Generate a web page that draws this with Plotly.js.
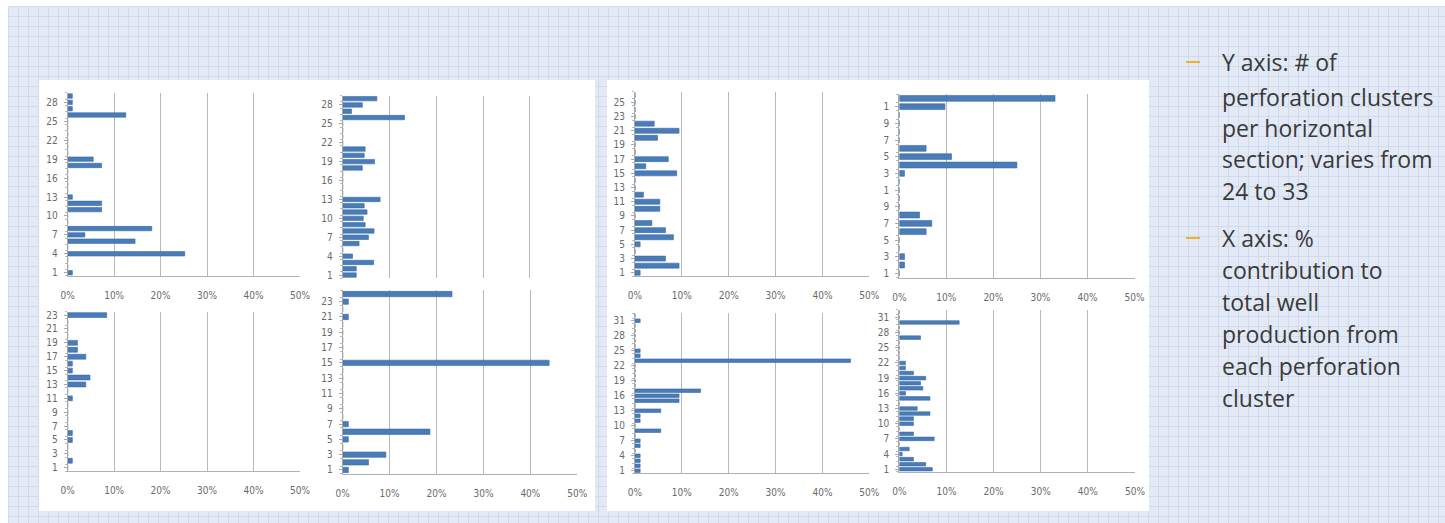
<!DOCTYPE html>
<html><head><meta charset="utf-8">
<script src="https://cdn.plot.ly/plotly-3.0.1.min.js"></script>
<style>
html,body{margin:0;padding:0;background:#ffffff;}
#chart{width:1445px;height:523px;background-color:#e3eaf6;
background-image:linear-gradient(#d0daef 1px,transparent 1px),linear-gradient(90deg,#d0daef 1px,transparent 1px);
background-size:10px 10px;background-position:8px 6px;}
</style></head><body><div id="chart"></div>
<script>
// % contribution to total well production per perforation cluster (index = cluster # - 1)
const well1Pct = [1,0,0,25.2,0,14.5,3.7,18.1,0,0,7.3,7.3,1,0,0,0,0,7.3,5.5,0,0,0,0,0,0,12.5,1,1,1];
const well2Pct = [2.9,2.9,6.6,2.1,0,3.5,5.5,6.7,4.8,4.4,5.2,4.6,8.0,0,0,0,0,4.2,6.8,4.6,4.8,0,0,0,0,13.2,1.9,4.2,7.3];
const well3Pct = [0,1,0,0,1,1,0,0,0,0,1,0,3.9,4.8,1,1,3.9,2.1,2.1,0,0,0,8.4];
const well4Pct = [1.2,5.5,9.2,0,1.2,18.6,1.2,0,0,0,0,0,0,0,44,0,0,0,0,0,1.2,0,1.2,23.3];
const well5Pct = [1.1,9.4,6.5,0,1.1,8.2,6.5,3.6,0,5.3,5.3,1.8,0,0,8.9,2.3,7.1,0,0,4.8,9.4,4.1,0,0,0,0];
const well6Pct = [0,1.1,1.1,0,0,5.7,6.9,4.3,0,0,0,0,1.1,25,11.1,5.7,0,0,0,0,9.7,33.1];
const well7Pct = [1.1,1.1,1.1,1.1,0,1.1,1.1,0,5.5,0,1.1,1.1,5.5,0,9.4,9.4,14,0,0,0,0,0,46,1.1,1.1,0,0,0,0,0,1.1,0];
const well8Pct = [7,5.6,3,0.6,2.1,0,7.4,3,0,3,3,6.5,3.8,0,6.5,1.3,5,4.5,5.6,3,1.3,1.3,0,0,0,0,4.5,0,0,12.7,0,0];

// y tick labels (cluster numbers)
const ticksStep3a = [1,4,7,10,13,16,19,22,25,28];
const ticksOdd23 = [1,3,5,7,9,11,13,15,17,19,21,23];
const ticksOdd25 = [1,3,5,7,9,11,13,15,17,19,21,23,25];
const ticksOdd21 = [1,3,5,7,9,11,13,15,17,19,21];
const ticksOdd21Text = ["1","3","5","7","9","1","3","5","7","9","1"]; // labels clipped to last digit in the original
const ticksStep3b = [1,4,7,10,13,16,19,22,25,28,31];

// x ticks
const xTickVals = [0,10,20,30,40,50];
const xTickText = ["0%","10%","20%","30%","40%","50%"];

// right-hand notes
const noteY = ["Y axis: # of","perforation clusters","per horizontal","section; varies from","24 to 33"];
const noteX = ["X axis: %","contribution to","total well","production from","each perforation","cluster"];

const W = 1445, H = 523;
const px = v => v / W, py = v => 1 - v / H;

const series = [well1Pct, well2Pct, well3Pct, well4Pct, well5Pct, well6Pct, well7Pct, well8Pct];
const tickSets = [
  [ticksStep3a, null], [ticksStep3a, null], [ticksOdd23, null], [ticksOdd23, null],
  [ticksOdd25, null], [ticksOdd21, ticksOdd21Text], [ticksStep3b, null], [ticksStep3b, null]
];
// plot boxes in pixels: [left, right, top, bottom]
const boxes = [
  [67.7, 300, 92.9, 275.9],
  [342.7, 576.7, 95.5, 278.2],
  [67.7, 300, 311.6, 471.2],
  [342.7, 577.3, 290.2, 473.8],
  [635, 869.3, 91.7, 276.3],
  [899.3, 1134.5, 94.2, 277.5],
  [635, 869.3, 313.2, 473.2],
  [899.3, 1135, 309.8, 471.8]
];

const tickFont = {family: "Liberation Sans Narrow, DejaVu Sans Condensed, sans-serif", size: 10, color: "#6a6a6a"};
const data = [];
const layout = {
  width: W, height: H, margin: {l:0, r:0, t:0, b:0},
  paper_bgcolor: "rgba(0,0,0,0)", plot_bgcolor: "rgba(0,0,0,0)",
  showlegend: false, bargap: 0.3,
  shapes: [], annotations: []
};

// white strips top/left and white panels
layout.shapes.push({type:"rect", xref:"paper", yref:"paper", x0:0, x1:1, y0:py(6), y1:1, fillcolor:"#ffffff", line:{width:0}, layer:"below"});
layout.shapes.push({type:"rect", xref:"paper", yref:"paper", x0:0, x1:px(8), y0:0, y1:1, fillcolor:"#ffffff", line:{width:0}, layer:"below"});
layout.shapes.push({type:"rect", xref:"paper", yref:"paper", x0:px(39), x1:px(595), y0:py(511), y1:py(80), fillcolor:"#ffffff", line:{width:0}, layer:"below"});
layout.shapes.push({type:"rect", xref:"paper", yref:"paper", x0:px(607), x1:px(1149), y0:py(511), y1:py(80), fillcolor:"#ffffff", line:{width:0}, layer:"below"});

series.forEach((vals, i) => {
  const k = i + 1;
  const sfx = k === 1 ? "" : String(k);
  const b = boxes[i];
  const clusters = vals.map((v, j) => j + 1);
  data.push({
    type: "bar", orientation: "h", x: vals, y: clusters,
    xaxis: "x" + sfx, yaxis: "y" + sfx,
    marker: {color: "#4a7cb9", line: {color: "#3b6aa0", width: 0.6}},
    hoverinfo: "skip"
  });
  layout["xaxis" + sfx] = {
    domain: [px(b[0]), px(b[1])], anchor: "y" + sfx,
    range: [0, 50], tickmode: "array", tickvals: xTickVals, ticktext: xTickText,
    showgrid: true, gridcolor: "#b9b9b9", gridwidth: 1, zeroline: false,
    showline: k !== 2, linecolor: "#b0b0b0", linewidth: 1,
    ticks: "", tickfont: tickFont, ticklabelstandoff: 10,
    showticklabels: k !== 2, fixedrange: true
  };
  const yt = tickSets[i];
  layout["yaxis" + sfx] = {
    domain: [py(b[3]), py(b[2])], anchor: "x" + sfx,
    range: [0.5, vals.length + 0.5], tickmode: "array", tickvals: yt[0],
    ticktext: yt[1] ? yt[1] : yt[0].map(String),
    showgrid: false, zeroline: false, showline: true, linecolor: "#a8a8a8", linewidth: 1,
    ticks: "outside", ticklen: 3, tickcolor: "#a8a8a8", tickfont: tickFont, ticklabelstandoff: 4,
    minor: {ticks: "outside", ticklen: 2, tickcolor: "#b8b8b8", tickmode: "linear", tick0: 0.5, dtick: 1, showgrid: false},
    fixedrange: true
  };
});

// notes on the right
const noteFont = {family: "Open Sans, Noto Sans, sans-serif", size: 23, color: "#3a3a3a"};
const yLinesY = [62, 97, 128, 159, 191];
const xLinesY = [238, 270, 302, 334, 366, 398];
noteY.forEach((t, j) => layout.annotations.push({xref:"paper", yref:"paper", x:px(1220), y:py(yLinesY[j]), xanchor:"left", yanchor:"middle", text:t, showarrow:false, font:noteFont}));
noteX.forEach((t, j) => layout.annotations.push({xref:"paper", yref:"paper", x:px(1220), y:py(xLinesY[j]), xanchor:"left", yanchor:"middle", text:t, showarrow:false, font:noteFont}));
[62, 238].forEach(y => layout.shapes.push({type:"line", xref:"paper", yref:"paper", x0:px(1186), x1:px(1200), y0:py(y), y1:py(y), line:{color:"#f0b323", width:2}}));

Plotly.newPlot("chart", data, layout, {staticPlot: true, displayModeBar: false});
</script>
</body></html>
